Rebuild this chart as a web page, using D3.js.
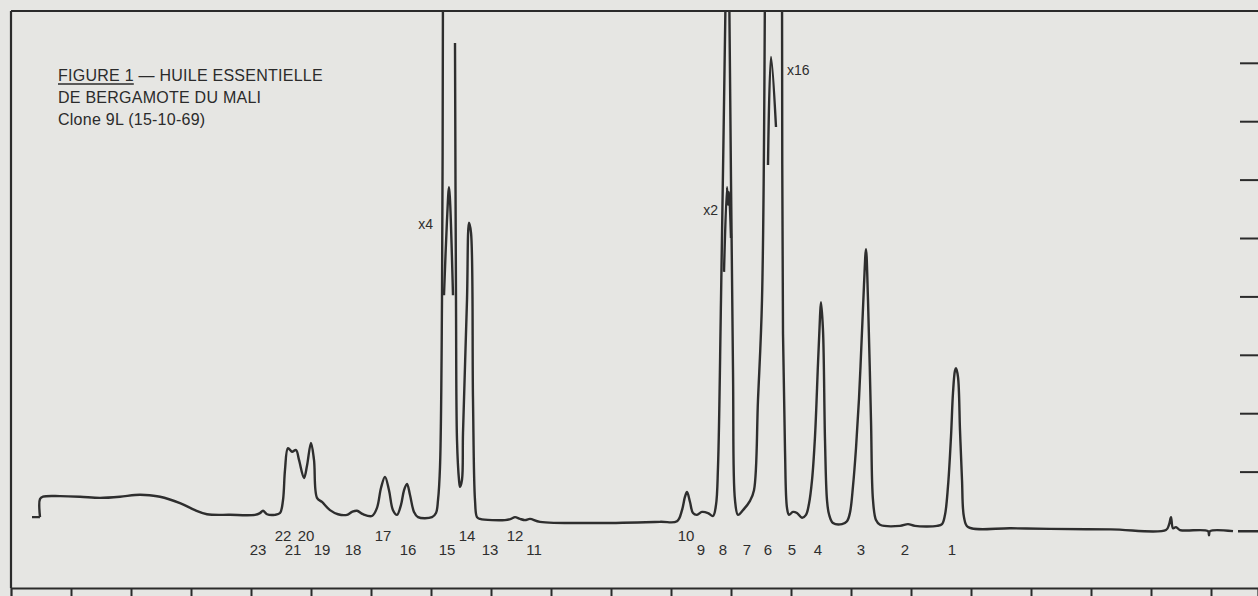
<!DOCTYPE html>
<html lang="fr">
<head>
    <meta charset="UTF-8">
    <title>Huile essentielle de bergamote du Mali</title>
    <script src="https://d3js.org/d3.v7.min.js"></script>
    <style>
        body { margin: 0; background: #e6e6e3; }
        svg { display: block; font-family: "Liberation Sans", Arial, sans-serif; }
        .ink { stroke: #2b2b2b; fill: none; }
        .trace { stroke: #2e2e2e; stroke-width: 2.4; fill: none; stroke-linejoin: round; }
        .peak-label { fill: #2e2e2e; font-size: 15px; text-anchor: middle; }
        .att-label { fill: #2e2e2e; font-size: 14px; }
        .title { fill: #2b2b2b; font-size: 16px; letter-spacing: 0.25px; }
    </style>
</head>
<body>
    <svg width="1258" height="596"></svg>
    <script>
        // time in seconds from the injection mark (chart runs right to left), response in chart units (10 per division)
        // null = pen leaves the chart (off-scale) or lifts
        const mainTrace = [
            [1179, 2.2], [1171, 2.2],
            null,
            [1171, 2.2], [1171, 5.3], [1168, 5.7], [1151, 5.8], [1131, 5.7], [1111, 5.5],
            [1091, 5.7], [1076, 6.0], [1066, 6.0], [1051, 5.7], [1031, 4.6], [1016, 3.4], [1004, 2.7],
            [981, 2.6], [956, 2.6], [951, 2.9], [948, 3.3], [944, 2.7], [936, 2.6], [931, 2.9],
            [928, 5.1], [926, 10.3], [923, 14.0], [919, 13.4], [915, 13.7], [912, 12.0], [907, 8.9],
            [904, 11.0], [900, 14.9], [897, 12.0], [894, 5.5], [889, 4.8], [881, 3.4], [873, 2.7],
            [864, 2.6], [859, 3.1], [854, 3.3], [848, 2.7], [839, 2.4], [834, 3.8], [830, 7.2],
            [826, 9.1], [822, 6.8], [818, 3.4], [814, 2.6], [810, 4.3], [807, 6.8], [804, 7.9],
            [801, 6.0], [797, 3.1], [793, 2.2], [779, 2.2], [775, 2.9], [773, 5.1], [771, 10.8],
            [769, 39.4], [768, 96],
            null,
            [756, 83.4], [755, 39.4], [754, 15.4], [752, 8.6], [751, 7.4], [749, 8.6], [748, 16.6],
            [744, 39.4], [742, 52.6], [740, 50.9], [738, 22.3], [736, 5.1], [734, 2.2], [731, 1.9],
            [706, 1.7], [700, 1.9], [696, 2.2], [691, 1.9], [686, 1.7], [681, 1.9], [671, 1.4],
            [611, 1.2], [551, 1.4], [534, 1.5], [529, 3.4], [526, 5.7], [524, 6.5], [521, 4.8],
            [518, 2.9], [514, 2.6], [509, 3.1], [503, 2.9], [498, 2.4], [495, 4.3], [493, 10.8],
            [490, 39.4], [485, 96],
            null,
            [482, 96], [478, 27.4], [476, 5.1], [473, 2.6], [468, 3.4],
            [461, 5.0], [457, 6.8], [453, 22.3], [449, 39.4], [446, 96],
            null,
            [429, 96], [428, 33.7],
            [426, 13.7], [424, 3.8], [422, 2.6], [418, 3.1], [414, 2.9], [409, 2.1], [405, 2.6],
            [402, 4.5], [399, 8.5], [396, 16.0], [393, 28.5], [391, 36.5], [390, 39.0], [388, 34.2], [386, 15.4],
            [384, 5.1], [382, 2.7], [378, 1.2], [369, 1.0], [364, 1.5], [361, 3.0], [358, 7.5],
            [355, 14.0], [352, 22.5], [349, 34.0], [347, 42.0], [345, 48.1], [343, 39.4], [340, 18.8], [338, 5.1], [335, 1.7],
            [331, 0.9], [311, 0.7], [303, 1.0], [296, 0.7], [274, 0.7], [269, 1.0], [266, 2.6],
            [263, 7.5], [260, 16.0], [258, 23.5], [256, 27.3], [255, 27.7], [253, 26.2], [251, 17.1], [249, 8.6],
            [247, 2.2], [243, 0.5], [200, 0.3], [161, 0.2], [100, 0.1], [45, 0], [42, 0.9], [40, 2.2], [38, 0.3],
            [35, 0.5], [31, 0], [3, -0.2], [2, -0.9], [1, -0.2], [-22, -0.2],
            null,
            [-27, -0.2], [-47, -0.2]
        ];
        // attenuated re-recordings of the off-scale peaks
        const traceX4 = [[767, 40.2], [764, 53.1], [762, 58.7], [761, 56.5], [758, 40.2]];
        const traceX2 = [[487, 44.2], [484, 58.7], [483, 55.7], [482, 57.9], [480, 50.0]];
        const traceX16 = [[443, 62.5], [440, 81.0], [435, 69.0]];

        const attenuations = ["x4", "x2", "x16"];
        const attenuationPos = [[778, 51.5], [493, 53.9], [424, 77.9]];

        const peakNames = ["1", "2", "3", "4", "5", "6", "7", "8", "9", "10", "11", "12",
            "13", "14", "15", "16", "17", "18", "19", "20", "21", "22", "23"];
        const peakTimes = [259, 306, 350, 393, 419, 443, 464, 488, 510, 525, 677, 696,
            721, 744, 764, 803, 828, 858, 889, 905, 918, 928, 953];
        const peakRaised = [0, 0, 0, 0, 0, 0, 0, 0, 0, 1, 0, 1,
            0, 1, 0, 0, 1, 0, 0, 1, 0, 1, 0];

        const timeTicks = d3.range(0, 1141, 60);
        const respTicks = [10, 20, 30, 40, 50, 60, 70, 80];

        const titleLines = ["FIGURE 1 — HUILE ESSENTIELLE", "DE BERGAMOTE DU MALI", "Clone 9L  (15-10-69)"];

        const margin = { top: 11, right: 0, bottom: 8, left: 11 };
        const fullW = 1258, fullH = 596;
        const width = fullW - margin.left - margin.right;
        const height = fullH - margin.top - margin.bottom;

        const svg = d3.select("svg");
        svg.append("rect").attr("width", fullW).attr("height", fullH).attr("fill", "#e6e6e3");

        const g = svg.append("g").attr("transform", `translate(${margin.left},${margin.top})`);

        const x = d3.scaleLinear().domain([1200, -47]).range([0, width]);
        const y = d3.scaleLinear().domain([-9.93, 88.87]).range([height, 0]);

        g.append("clipPath").attr("id", "plot-clip")
            .append("rect").attr("x", 0).attr("y", 0).attr("width", width).attr("height", height);

        // bottom time axis with ticks hanging below the frame
        const xAxis = g.append("g")
            .attr("transform", `translate(0,${height})`)
            .call(d3.axisBottom(x).tickValues(timeTicks).tickSize(8).tickFormat(""));
        xAxis.select(".domain").attr("stroke", "#2b2b2b").attr("stroke-width", 2.2);
        xAxis.selectAll(".tick line").attr("stroke", "#2b2b2b").attr("stroke-width", 2);

        // top and left frame lines
        g.append("line").attr("class", "ink").attr("stroke-width", 2.2)
            .attr("x1", 0).attr("x2", width).attr("y1", 0).attr("y2", 0);
        g.append("line").attr("class", "ink").attr("stroke-width", 2.2)
            .attr("x1", 0).attr("x2", 0).attr("y1", 0).attr("y2", height);

        // response divisions on the right edge
        const yAxis = g.append("g")
            .attr("transform", `translate(${width},0)`)
            .call(d3.axisLeft(y).tickValues(respTicks).tickSize(18).tickFormat(""));
        yAxis.select(".domain").remove();
        yAxis.selectAll(".tick line").attr("stroke", "#2b2b2b").attr("stroke-width", 2);

        const line = d3.line()
            .defined(d => d != null)
            .x(d => x(d[0]))
            .y(d => y(d[1]))
            .curve(d3.curveCatmullRom.alpha(0.5));

        const plot = g.append("g").attr("clip-path", "url(#plot-clip)");
        [mainTrace, traceX4, traceX2, traceX16].forEach(tr => {
            plot.append("path").attr("class", "trace").attr("d", line(tr));
        });

        attenuations.forEach((t, i) => {
            g.append("text")
                .attr("class", "att-label")
                .attr("x", x(attenuationPos[i][0]))
                .attr("y", y(attenuationPos[i][1]))
                .attr("text-anchor", i === 2 ? "start" : "end")
                .text(t);
        });

        g.selectAll(".peak-label")
            .data(peakNames)
            .enter()
            .append("text")
            .attr("class", "peak-label")
            .attr("x", (d, i) => x(peakTimes[i]))
            .attr("y", (d, i) => peakRaised[i] ? y(-1.9) : y(-4.3))
            .text(d => d);

        const title = g.append("text").attr("class", "title").attr("x", 47).attr("y", 70);
        titleLines.forEach((t, i) => {
            title.append("tspan").attr("x", 47).attr("dy", i === 0 ? 0 : 22).text(t);
        });
        // underline under "FIGURE 1"
        const probe = g.append("text").attr("class", "title").text("FIGURE 1");
        const figWidth = probe.node().getComputedTextLength();
        probe.remove();
        g.append("line").attr("class", "ink").attr("stroke-width", 1.4)
            .attr("x1", 47).attr("x2", 47 + figWidth).attr("y1", 73).attr("y2", 73);
    </script>
</body>
</html>
